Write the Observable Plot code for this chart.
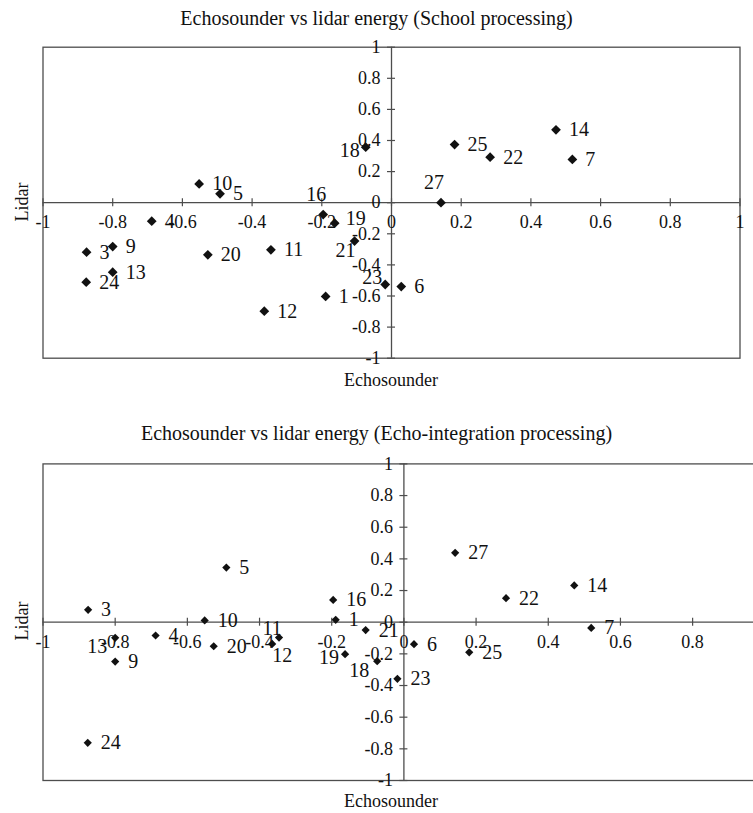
<!DOCTYPE html>
<html>
<head>
<meta charset="utf-8">
<script src="https://cdn.jsdelivr.net/npm/d3@7"></script>
<script src="https://cdn.jsdelivr.net/npm/@observablehq/plot@0.6"></script>
<style>
  html, body { margin: 0; padding: 0; background: #fff; overflow: hidden; }
  #page { position: relative; width: 753px; height: 813px; overflow: hidden; font-family: "Liberation Serif", "Times New Roman", serif; color: #111; }
  .title { position: absolute; left: 0; width: 753px; text-align: center; font-size: 20px; line-height: 20px; }
  .xlab { position: absolute; text-align: center; font-size: 18px; line-height: 20px; }
  .ylab { position: absolute; font-size: 18px; line-height: 20px; transform: rotate(-90deg); transform-origin: center; }
  .chart { position: absolute; left: 0; }
  .chart svg { max-width: none !important; }
</style>
</head>
<body>
<div id="page">
  <div class="title" style="top:8px">Echosounder vs lidar energy (School processing)</div>
  <div class="chart" id="c1" style="top:0px; width:753px"></div>
  <div class="xlab" style="top:370px; left:291px; width:200px">Echosounder</div>
  <div class="ylab" style="top:192px; left:-8px; width:60px; text-align:center">Lidar</div>

  <div class="title" style="top:423px">Echosounder vs lidar energy (Echo-integration processing)</div>
  <div class="chart" id="c2" style="top:405px; width:766px"></div>
  <div class="xlab" style="top:791px; left:291px; width:200px">Echosounder</div>
  <div class="ylab" style="top:611px; left:-8px; width:60px; text-align:center">Lidar</div>
</div>
<script>
// ---- data ----
const ids = [1, 3, 4, 5, 6, 7, 9, 10, 11, 12, 13, 14, 16, 18, 19, 20, 21, 22, 23, 24, 25, 27];
const echosounder = [-0.189, -0.875, -0.688, -0.492, 0.028, 0.519, -0.800, -0.552, -0.346, -0.365, -0.800, 0.472, -0.196, -0.074, -0.163, -0.527, -0.106, 0.283, -0.018, -0.876, 0.181, 0.142];
const lidarSchool = [-0.603, -0.318, -0.119, 0.057, -0.539, 0.278, -0.282, 0.121, -0.303, -0.698, -0.447, 0.469, -0.076, 0.357, -0.132, -0.335, -0.247, 0.293, -0.526, -0.511, 0.374, 0.000];
const lidarEcho = [0.015, 0.078, -0.084, 0.345, -0.139, -0.036, -0.249, 0.011, -0.097, -0.137, -0.099, 0.232, 0.141, -0.246, -0.202, -0.152, -0.050, 0.152, -0.358, -0.762, -0.190, 0.438];
const axisTicks = [-1, -0.8, -0.6, -0.4, -0.2, 0, 0.2, 0.4, 0.6, 0.8, 1];
const tickLabels = ["-1", "-0.8", "-0.6", "-0.4", "-0.2", "0", "0.2", "0.4", "0.6", "0.8", "1"];
// label placement category per point id (default: right)
const labelPlaceSchool = {18: "left", 16: "above", 27: "above", 23: "leftUp", 21: "belowLeftNear", 19: "rightUp"};
const labelPlaceEcho = {13: "belowLeft", 11: "aboveLeft", 12: "belowRight", 19: "left", 18: "belowLeft"};

// ---- styles ----
const placeStyle = {
  right: {dx: 13, dy: 0, textAnchor: "start"},
  rightUp: {dx: 11, dy: -5, textAnchor: "start"},
  left: {dx: -6, dy: 3, textAnchor: "end"},
  above: {dx: -7, dy: -20, textAnchor: "middle"},
  leftUp: {dx: -3, dy: -7, textAnchor: "end"},
  belowLeftNear: {dx: 1, dy: 9, textAnchor: "end"},
  belowLeft: {dx: -8, dy: 9, textAnchor: "end"},
  aboveLeft: {dx: -7, dy: -9, textAnchor: "middle"},
  belowRight: {dx: 10, dy: 12, textAnchor: "middle"}
};
const axisColor = "#4d4d4d";
const font = "Liberation Serif, Times New Roman, serif";

function makeChart(lidar, places, opts) {
  const data = ids.map((id, i) => ({id, x: echosounder[i], y: lidar[i], place: places[id] || "right"}));
  const ticks = axisTicks.map((v, i) => ({v, label: tickLabels[i]}));
  const labelMarks = Object.keys(placeStyle).map(p =>
    Plot.text(data.filter(d => d.place === p), {
      x: "x", y: "y", text: d => String(d.id),
      dx: placeStyle[p].dx, dy: placeStyle[p].dy, textAnchor: placeStyle[p].textAnchor,
      fontSize: 20, fill: "#111", fontFamily: font
    })
  );
  const svg = Plot.plot({
    width: opts.width, height: opts.height,
    marginTop: opts.mt, marginBottom: opts.mb, marginLeft: opts.ml, marginRight: opts.mr,
    style: {fontFamily: font, background: "transparent", overflow: "visible"},
    x: {domain: [-1, 1], axis: null},
    y: {domain: [-1, 1], axis: null},
    marks: [
      Plot.frame({stroke: axisColor, strokeWidth: 1.3}),
      Plot.ruleY([0], {stroke: axisColor, strokeWidth: 1.3}),
      Plot.ruleX([0], {stroke: axisColor, strokeWidth: 1.3}),
      Plot.ruleX(ticks, {x: "v", y1: () => 0, y2: () => 0, insetTop: -4, insetBottom: -4, stroke: axisColor, strokeWidth: 1.2}),
      Plot.ruleY(ticks, {y: "v", x1: () => 0, x2: () => 0, insetLeft: -4, insetRight: -4, stroke: axisColor, strokeWidth: 1.2}),
      Plot.text(ticks, {x: "v", y: () => 0, text: "label", dy: 20, fontSize: 18, fill: "#111", fontFamily: font}),
      Plot.text(ticks, {x: () => 0, y: "v", text: "label", dx: -11, textAnchor: "end", fontSize: 18, fill: "#111", fontFamily: font}),
      Plot.dot(data, {x: "x", y: "y", symbol: "diamond2", r: opts.r, fill: "#111", stroke: "none"}),
      ...labelMarks
    ]
  });
  svg.style.maxWidth = "none";
  svg.style.width = opts.width + "px";
  svg.style.height = opts.height + "px";
  return svg;
}

document.getElementById("c1").appendChild(makeChart(lidarSchool, labelPlaceSchool,
  {width: 753, height: 405, mt: 46.7, mb: 47.3, ml: 42.5, mr: 13.5, r: 4.4}));
document.getElementById("c2").appendChild(makeChart(lidarEcho, labelPlaceEcho,
  {width: 766, height: 408, mt: 58.4, mb: 33, ml: 42.5, mr: 1.7, r: 3.7}));
</script>
</body>
</html>
